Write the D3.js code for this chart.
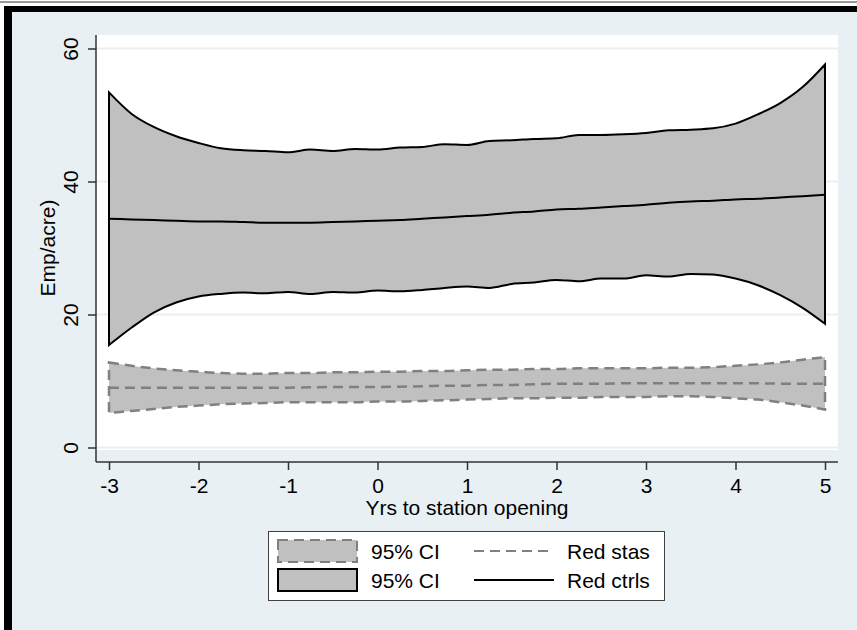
<!DOCTYPE html>
<html>
<head>
<meta charset="utf-8">
<script src="https://cdn.jsdelivr.net/npm/d3@7"></script>
<style>
  html, body { margin: 0; padding: 0; background: #ffffff; }
  svg { display: block; }
  text { font-family: "Liberation Sans", Arial, Helvetica, sans-serif; fill: #000; }
</style>
</head>
<body>
<svg id="chart" width="857" height="630"></svg>
<script>
// ---------------- data ----------------
const years = [-3, -2.75, -2.5, -2.25, -2, -1.75, -1.5, -1.25, -1, -0.75, -0.5, -0.25,
               0, 0.25, 0.5, 0.75, 1, 1.25, 1.5, 1.75, 2, 2.25, 2.5, 2.75,
               3, 3.25, 3.5, 3.75, 4, 4.25, 4.5, 4.75, 5];

// Red ctrls (solid)
const ctrlsMean  = [34.4, 34.3, 34.2, 34.1, 34.0, 34.0, 33.9, 33.8, 33.8, 33.8, 33.9, 34.0,
                    34.1, 34.2, 34.4, 34.6, 34.8, 35.0, 35.3, 35.5, 35.8, 35.9, 36.1, 36.3,
                    36.5, 36.8, 37.0, 37.1, 37.3, 37.4, 37.6, 37.8, 38.0];
const ctrlsUpper = [53.4, 50.2, 48.2, 46.8, 45.8, 45.0, 44.7, 44.6, 44.4, 44.8, 44.6, 44.9,
                    44.8, 45.1, 45.2, 45.6, 45.5, 46.1, 46.2, 46.4, 46.5, 47.0, 47.0, 47.1,
                    47.3, 47.7, 47.8, 48.0, 48.7, 50.1, 51.8, 54.2, 57.6];
const ctrlsLower = [15.4, 18.0, 20.3, 21.8, 22.7, 23.1, 23.3, 23.2, 23.4, 23.1, 23.4, 23.3,
                    23.6, 23.5, 23.7, 24.0, 24.2, 24.0, 24.6, 24.8, 25.2, 25.0, 25.4, 25.4,
                    25.9, 25.7, 26.1, 26.0, 25.4, 24.4, 22.9, 21.0, 18.6];

// Red stas (dashed)
const stasMean  = [9.0, 9.0, 9.0, 9.0, 9.0, 9.0, 9.0, 9.0, 9.0, 9.05, 9.1, 9.1,
                   9.1, 9.15, 9.2, 9.3, 9.3, 9.4, 9.4, 9.5, 9.6, 9.6, 9.6, 9.65,
                   9.65, 9.65, 9.65, 9.65, 9.65, 9.65, 9.6, 9.6, 9.6];
const stasUpper = [12.8, 12.3, 11.9, 11.6, 11.4, 11.2, 11.1, 11.1, 11.2, 11.2, 11.3, 11.3,
                   11.4, 11.4, 11.5, 11.5, 11.6, 11.7, 11.7, 11.8, 11.8, 11.9, 11.9, 11.9,
                   11.9, 12.0, 12.0, 12.1, 12.3, 12.5, 12.8, 13.2, 13.6];
const stasLower = [5.2, 5.5, 5.8, 6.1, 6.3, 6.5, 6.6, 6.7, 6.8, 6.8, 6.8, 6.8,
                   6.9, 6.9, 7.0, 7.1, 7.2, 7.3, 7.4, 7.4, 7.5, 7.5, 7.6, 7.6,
                   7.6, 7.7, 7.7, 7.6, 7.4, 7.2, 6.8, 6.3, 5.7];

const xTicks = [-3, -2, -1, 0, 1, 2, 3, 4, 5];
const xTickLabels = ["-3", "-2", "-1", "0", "1", "2", "3", "4", "5"];
const yTicks = [0, 20, 40, 60];
const yTickLabels = ["0", "20", "40", "60"];
const xTitle = "Yrs to station opening";
const yTitle = "Emp/acre)";
const legendRows = [
  { area: "95% CI", line: "Red stas",  kind: "stas"  },
  { area: "95% CI", line: "Red ctrls", kind: "ctrls" }
];

// ---------------- styles ----------------
const BG = "#e8f0f3";
const FILL = "#c0c0c0";
const DASHGRAY = "#808080";
const DASH = "10,6";
const FONT = 21;

const svg = d3.select("#chart");

// outer frame
svg.append("rect").attr("x", 0).attr("y", 0).attr("width", 857).attr("height", 630).attr("fill", "#ffffff");
svg.append("line").attr("x1", 0).attr("x2", 857).attr("y1", 2).attr("y2", 2)
   .attr("stroke", "#333").attr("stroke-width", 1);
svg.append("rect").attr("x", 4).attr("y", 6).attr("width", 853).attr("height", 624).attr("fill", "#000");
svg.append("rect").attr("x", 12).attr("y", 12).attr("width", 845).attr("height", 618).attr("fill", BG);

// plot region
const plot = { left: 96, right: 838, top: 35, bottom: 450, axisY: 462 };
svg.append("rect").attr("x", plot.left).attr("y", plot.top)
   .attr("width", plot.right - plot.left).attr("height", plot.bottom - plot.top)
   .attr("fill", "#ffffff");

const x = d3.scaleLinear().domain([-3, 5]).range([109, 825]);
const y = d3.scaleLinear().domain([0, 60]).range([447.5, 48.5]);

// gridlines
svg.append("g").selectAll("line").data(yTicks).join("line")
   .attr("x1", plot.left).attr("x2", plot.right)
   .attr("y1", d => y(d)).attr("y2", d => y(d))
   .attr("stroke", BG).attr("stroke-width", 2);

const rows = years.map((yr, i) => ({
  yr,
  cm: ctrlsMean[i], cu: ctrlsUpper[i], cl: ctrlsLower[i],
  sm: stasMean[i], su: stasUpper[i], sl: stasLower[i]
}));

const curve = d3.curveMonotoneX;
const area = (lo, hi) => d3.area().x(d => x(d.yr)).y0(d => y(d[lo])).y1(d => y(d[hi])).curve(curve);
const line = key => d3.line().x(d => x(d.yr)).y(d => y(d[key])).curve(curve);

// closed band outline path (upper forward, lower backward)
function bandOutline(lo, hi) {
  const up = line(hi)(rows);
  const down = line(lo)(rows.slice().reverse());
  return up + "L" + down.slice(1) + "Z";
}

// stas band
svg.append("path").attr("d", area("sl", "su")(rows)).attr("fill", FILL).attr("stroke", "none");
svg.append("path").attr("d", bandOutline("sl", "su")).attr("fill", "none")
   .attr("stroke", DASHGRAY).attr("stroke-width", 2.5).attr("stroke-dasharray", DASH)
   .attr("stroke-linejoin", "miter");
svg.append("path").attr("d", line("sm")(rows)).attr("fill", "none")
   .attr("stroke", DASHGRAY).attr("stroke-width", 2.5).attr("stroke-dasharray", DASH);

// ctrls band
svg.append("path").attr("d", area("cl", "cu")(rows)).attr("fill", FILL).attr("stroke", "none");
svg.append("path").attr("d", bandOutline("cl", "cu")).attr("fill", "none")
   .attr("stroke", "#000").attr("stroke-width", 2).attr("stroke-linejoin", "miter");
svg.append("path").attr("d", line("cm")(rows)).attr("fill", "none")
   .attr("stroke", "#000").attr("stroke-width", 2);

// axes
const AXC = "#333";
svg.append("line").attr("x1", plot.left).attr("x2", plot.left).attr("y1", plot.top).attr("y2", plot.axisY)
   .attr("stroke", AXC).attr("stroke-width", 1.5);
svg.append("line").attr("x1", plot.left).attr("x2", plot.right).attr("y1", plot.axisY).attr("y2", plot.axisY)
   .attr("stroke", AXC).attr("stroke-width", 1.5);

const gx = svg.append("g").attr("transform", `translate(0,${plot.axisY})`)
  .call(d3.axisBottom(x).tickValues(xTicks).tickSize(8).tickFormat((d, i) => xTickLabels[i]));
gx.select(".domain").remove();
gx.selectAll(".tick line").attr("stroke", AXC).attr("stroke-width", 1.5);
gx.selectAll(".tick text").attr("y", 31).attr("dy", null)
  .style("font-size", FONT + "px").attr("fill", "#000")
  .style("font-family", '"Liberation Sans", Arial, sans-serif');

const gy = svg.append("g").attr("transform", `translate(${plot.left},0)`)
  .call(d3.axisLeft(y).tickValues(yTicks).tickSize(8).tickFormat((d, i) => yTickLabels[i]));
gy.select(".domain").remove();
gy.selectAll(".tick line").attr("stroke", AXC).attr("stroke-width", 1.5);
gy.selectAll(".tick text")
  .attr("transform", "rotate(-90)")
  .attr("x", 0).attr("y", -18).attr("dy", null)
  .attr("text-anchor", "middle")
  .style("font-size", FONT + "px").attr("fill", "#000")
  .style("font-family", '"Liberation Sans", Arial, sans-serif');

// axis titles
svg.append("text").attr("x", 467).attr("y", 515).attr("text-anchor", "middle")
   .style("font-size", FONT + "px").text(xTitle);
svg.append("text").attr("transform", "translate(55,248) rotate(-90)").attr("text-anchor", "middle")
   .style("font-size", FONT + "px").text(yTitle);

// legend
const lg = svg.append("g");
lg.append("rect").attr("x", 268.5).attr("y", 531.5).attr("width", 396).attr("height", 69)
  .attr("fill", "#fff").attr("stroke", "#404040").attr("stroke-width", 1);
const rowY = [551, 580];
legendRows.forEach((r, i) => {
  const cy = rowY[i];
  const sw = lg.append("rect").attr("x", 278).attr("y", cy - 11).attr("width", 79).attr("height", 22)
    .attr("fill", FILL);
  if (r.kind === "stas") {
    sw.attr("stroke", DASHGRAY).attr("stroke-width", 2).attr("stroke-dasharray", DASH);
  } else {
    sw.attr("stroke", "#000").attr("stroke-width", 2);
  }
  lg.append("text").attr("x", 371).attr("y", cy + 8).style("font-size", FONT + "px").text(r.area);
  const ln = lg.append("line").attr("x1", 474).attr("x2", 554).attr("y1", cy).attr("y2", cy);
  if (r.kind === "stas") {
    ln.attr("stroke", DASHGRAY).attr("stroke-width", 2).attr("stroke-dasharray", DASH);
  } else {
    ln.attr("stroke", "#000").attr("stroke-width", 2);
  }
  lg.append("text").attr("x", 567).attr("y", cy + 8).style("font-size", FONT + "px").text(r.line);
});
</script>
</body>
</html>
